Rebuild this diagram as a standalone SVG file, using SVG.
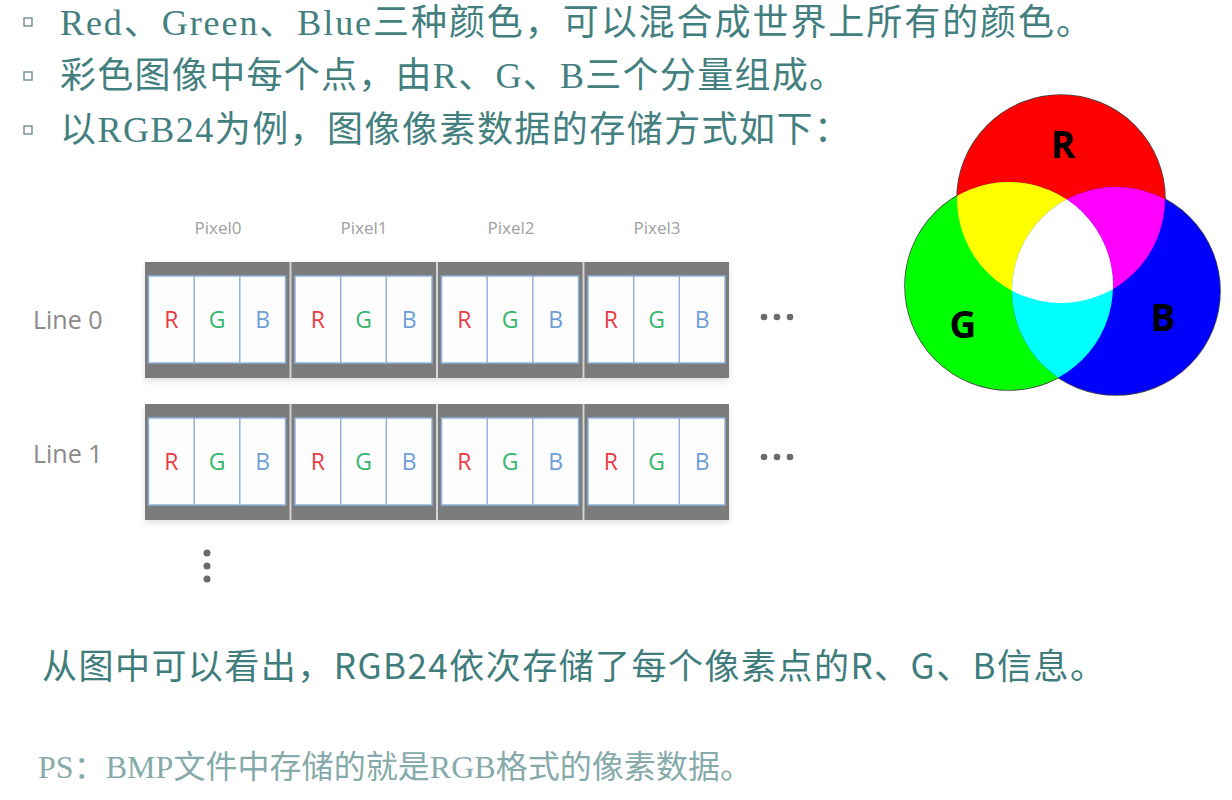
<svg xmlns="http://www.w3.org/2000/svg" width="1232" height="800" viewBox="0 0 1232 800">
<style>
.top{font-family:"Liberation Serif","Noto Sans CJK SC",serif;font-size:36px;fill:#437f7f}
.bul{fill:none;stroke:#6f8f8f;stroke-width:1.4}
.pxl{font-family:"Open Sans","Noto Sans",sans-serif;font-size:17px;fill:#a0a0a0;text-anchor:middle}
.line{font-family:"Open Sans","Noto Sans",sans-serif;font-size:25px;fill:#8a8a8a}
.gray{fill:#7b7b7b}
.cell{fill:#fdfdfd;stroke:#8db3dc;stroke-width:1.5}
.div{stroke:#8db3dc;stroke-width:1.5}
.L{font-family:"Open Sans","Noto Sans",sans-serif;font-size:23px;text-anchor:middle}
.r{fill:#ea3b43}.g{fill:#35b66e}.b{fill:#6f9fd6}
.dot{fill:#6a6a6a}
.vl{font-family:"Open Sans","Liberation Sans",sans-serif;font-weight:bold;font-size:37px;fill:#000;text-anchor:middle}
.sum{font-family:"Noto Sans CJK SC",sans-serif;font-size:35px;fill:#3f7d7d}
.ps{font-family:"Liberation Serif","Noto Sans CJK SC",serif;font-size:32px;fill:#86aaaa}
</style>
<defs>
<filter id="sh" x="-5%" y="-10%" width="110%" height="130%"><feDropShadow dx="0" dy="3" stdDeviation="3" flood-color="#000" flood-opacity="0.12"/></filter>
<g id="pix">
<rect class="gray" x="0" y="0" width="144.5" height="116"/>
<rect class="cell" x="3.5" y="14" width="137" height="87"/>
<line class="div" x1="49.2" y1="14" x2="49.2" y2="101"/>
<line class="div" x1="94.8" y1="14" x2="94.8" y2="101"/>
</g>
<circle id="cR" cx="1061" cy="199" r="104"/>
<circle id="cG" cx="1009" cy="286" r="104"/>
<circle id="cB" cx="1116" cy="291" r="104"/>
<clipPath id="clR"><use href="#cR"/></clipPath>
<clipPath id="clG"><use href="#cG"/></clipPath>
</defs>
<rect width="1232" height="800" fill="#ffffff"/>

<g id="bullets">
<rect class="bul" x="24" y="18" width="8" height="8"/>
<rect class="bul" x="24" y="72" width="8" height="8"/>
<rect class="bul" x="24" y="126" width="8" height="8"/>
<text class="top" x="60" y="35" textLength="1032" lengthAdjust="spacing">Red、Green、Blue三种颜色，可以混合成世界上所有的颜色。</text>
<text class="top" x="60" y="88" textLength="785" lengthAdjust="spacing">彩色图像中每个点，由R、G、B三个分量组成。</text>
<text class="top" x="60" y="142" textLength="790" lengthAdjust="spacing">以RGB24为例，图像像素数据的存储方式如下：</text>
</g>

<g id="pixel-labels">
<text class="pxl" x="218" y="234">Pixel0</text>
<text class="pxl" x="364" y="234">Pixel1</text>
<text class="pxl" x="511" y="234">Pixel2</text>
<text class="pxl" x="657" y="234">Pixel3</text>
</g>

<g id="line0">
<text class="line" x="33" y="329">Line 0</text>
<g filter="url(#sh)"><rect x="145" y="262" width="584" height="116" fill="#d3d3d3"/></g>
<g transform="translate(145,262)"><use href="#pix"/><text class="L r" x="26.4" y="66">R</text><text class="L g" x="72" y="66">G</text><text class="L b" x="117.6" y="66">B</text></g>
<g transform="translate(291.5,262)"><use href="#pix"/><text class="L r" x="26.4" y="66">R</text><text class="L g" x="72" y="66">G</text><text class="L b" x="117.6" y="66">B</text></g>
<g transform="translate(438,262)"><use href="#pix"/><text class="L r" x="26.4" y="66">R</text><text class="L g" x="72" y="66">G</text><text class="L b" x="117.6" y="66">B</text></g>
<g transform="translate(584.5,262)"><use href="#pix"/><text class="L r" x="26.4" y="66">R</text><text class="L g" x="72" y="66">G</text><text class="L b" x="117.6" y="66">B</text></g>
<circle class="dot" cx="764" cy="317" r="3.3"/><circle class="dot" cx="777" cy="317" r="3.3"/><circle class="dot" cx="790" cy="317" r="3.3"/>
</g>

<g id="line1">
<text class="line" x="33" y="463">Line 1</text>
<g filter="url(#sh)"><rect x="145" y="404" width="584" height="116" fill="#d3d3d3"/></g>
<g transform="translate(145,404)"><use href="#pix"/><text class="L r" x="26.4" y="66">R</text><text class="L g" x="72" y="66">G</text><text class="L b" x="117.6" y="66">B</text></g>
<g transform="translate(291.5,404)"><use href="#pix"/><text class="L r" x="26.4" y="66">R</text><text class="L g" x="72" y="66">G</text><text class="L b" x="117.6" y="66">B</text></g>
<g transform="translate(438,404)"><use href="#pix"/><text class="L r" x="26.4" y="66">R</text><text class="L g" x="72" y="66">G</text><text class="L b" x="117.6" y="66">B</text></g>
<g transform="translate(584.5,404)"><use href="#pix"/><text class="L r" x="26.4" y="66">R</text><text class="L g" x="72" y="66">G</text><text class="L b" x="117.6" y="66">B</text></g>
<circle class="dot" cx="764" cy="457" r="3.3"/><circle class="dot" cx="777" cy="457" r="3.3"/><circle class="dot" cx="790" cy="457" r="3.3"/>
</g>

<g id="vdots">
<circle class="dot" cx="207" cy="553" r="3.5"/><circle class="dot" cx="207" cy="566" r="3.5"/><circle class="dot" cx="207" cy="579" r="3.5"/>
</g>

<g id="venn">
<use href="#cR" fill="none" stroke="#444" stroke-width="1.6"/>
<use href="#cG" fill="none" stroke="#444" stroke-width="1.6"/>
<use href="#cB" fill="none" stroke="#444" stroke-width="1.6"/>
<use href="#cR" fill="#ff0000"/>
<use href="#cG" fill="#00ff00"/>
<use href="#cB" fill="#0000ff"/>
<use href="#cG" fill="#ffff00" clip-path="url(#clR)"/>
<use href="#cB" fill="#ff00ff" clip-path="url(#clR)"/>
<use href="#cB" fill="#00ffff" clip-path="url(#clG)"/>
<g clip-path="url(#clR)"><use href="#cB" fill="#ffffff" clip-path="url(#clG)"/></g>
<text class="vl" x="1063" y="158">R</text>
<text class="vl" x="963" y="338">G</text>
<text class="vl" x="1163" y="331">B</text>
</g>

<g id="summary">
<text class="sum" x="42" y="679" textLength="1063" lengthAdjust="spacing">从图中可以看出，RGB24依次存储了每个像素点的R、G、B信息。</text>
<text class="ps" x="38" y="778" textLength="714" lengthAdjust="spacing">PS：BMP文件中存储的就是RGB格式的像素数据。</text>
</g>
</svg>
